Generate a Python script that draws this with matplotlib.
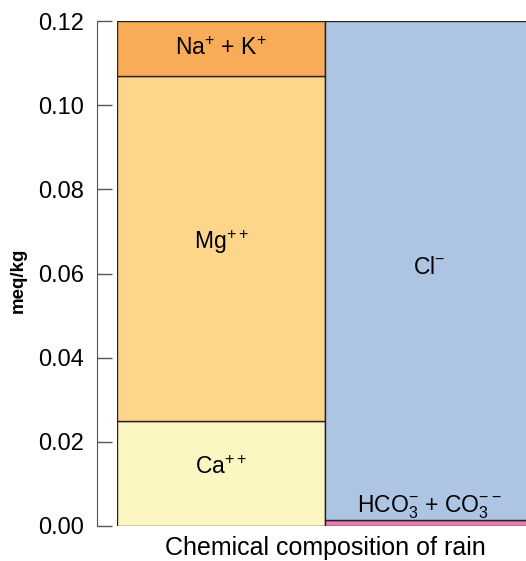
import numpy as np
import matplotlib
matplotlib.use("Agg")
import matplotlib.pyplot as plt

plt.rcParams['font.family'] = ['Liberation Sans', 'DejaVu Sans']
plt.rcParams['mathtext.default'] = 'regular'

# data: stacked components of rain chemistry (meq/kg)
cations = ['Ca$^{++}$', 'Mg$^{++}$', 'Na$^{+}$ + K$^{+}$']
cation_vals = [0.025, 0.082, 0.013]
cation_cols = ['#FCF6C3', '#FDD68C', '#F9AC58']
cation_label_y = [0.014, 0.0675, 0.1135]

anions = ['HCO$_3^{-}$ + CO$_3^{--}$', 'Cl$^{-}$']
anion_vals = [0.0015, 0.1185]
anion_cols = ['#E87EAE', '#ADC4E3']
anion_label_y = [0.0045, 0.0615]

fig = plt.figure(figsize=(5.26, 5.61), dpi=100)
ax = fig.add_axes([117 / 526, 35 / 561, 409 / 526, 505 / 561])

# cation bar (left)
bottom = 0
for v, c in zip(cation_vals, cation_cols):
    ax.bar(0.5, v, width=1, bottom=bottom, color=c, edgecolor='#222222', linewidth=1)
    bottom += v
for lab, y in zip(cations, cation_label_y):
    ax.text(0.5, y, lab, ha='center', va='center', fontsize=16.5)

# anion bar (right)
bottom = 0
for v, c in zip(anion_vals, anion_cols):
    ax.bar(1.5, v, width=1, bottom=bottom, color=c, edgecolor='#222222', linewidth=1)
    bottom += v
for lab, y in zip(anions, anion_label_y):
    ax.text(1.5, y, lab, ha='center', va='center', fontsize=16.5)

ax.set_xlim(0, 409 / 208)
ax.set_ylim(0, 0.12)
ticks = np.arange(0, 0.121, 0.02)
ax.set_yticks(ticks)
ax.set_yticklabels(['%.2f' % t for t in ticks])
ax.tick_params(axis='y', direction='in', length=10.8, width=1, color='#555555',
               pad=9.4, labelsize=17)
ax.set_xticks([])

for s in ['top', 'right', 'bottom']:
    ax.spines[s].set_visible(False)
ax.spines['left'].set_position(('outward', 14.4))
ax.spines['left'].set_color('#555555')

ax.annotate('Chemical composition of rain', xy=(1.0, 0), xytext=(0, -16),
            textcoords='offset points', ha='center', va='center',
            fontsize=18, annotation_clip=False)
fig.text(18 / 526, 1 - 280 / 561, 'meq/kg', rotation=90, ha='center', va='center',
         fontsize=13.5, fontweight='bold')

fig.savefig('out.png', dpi=100)
